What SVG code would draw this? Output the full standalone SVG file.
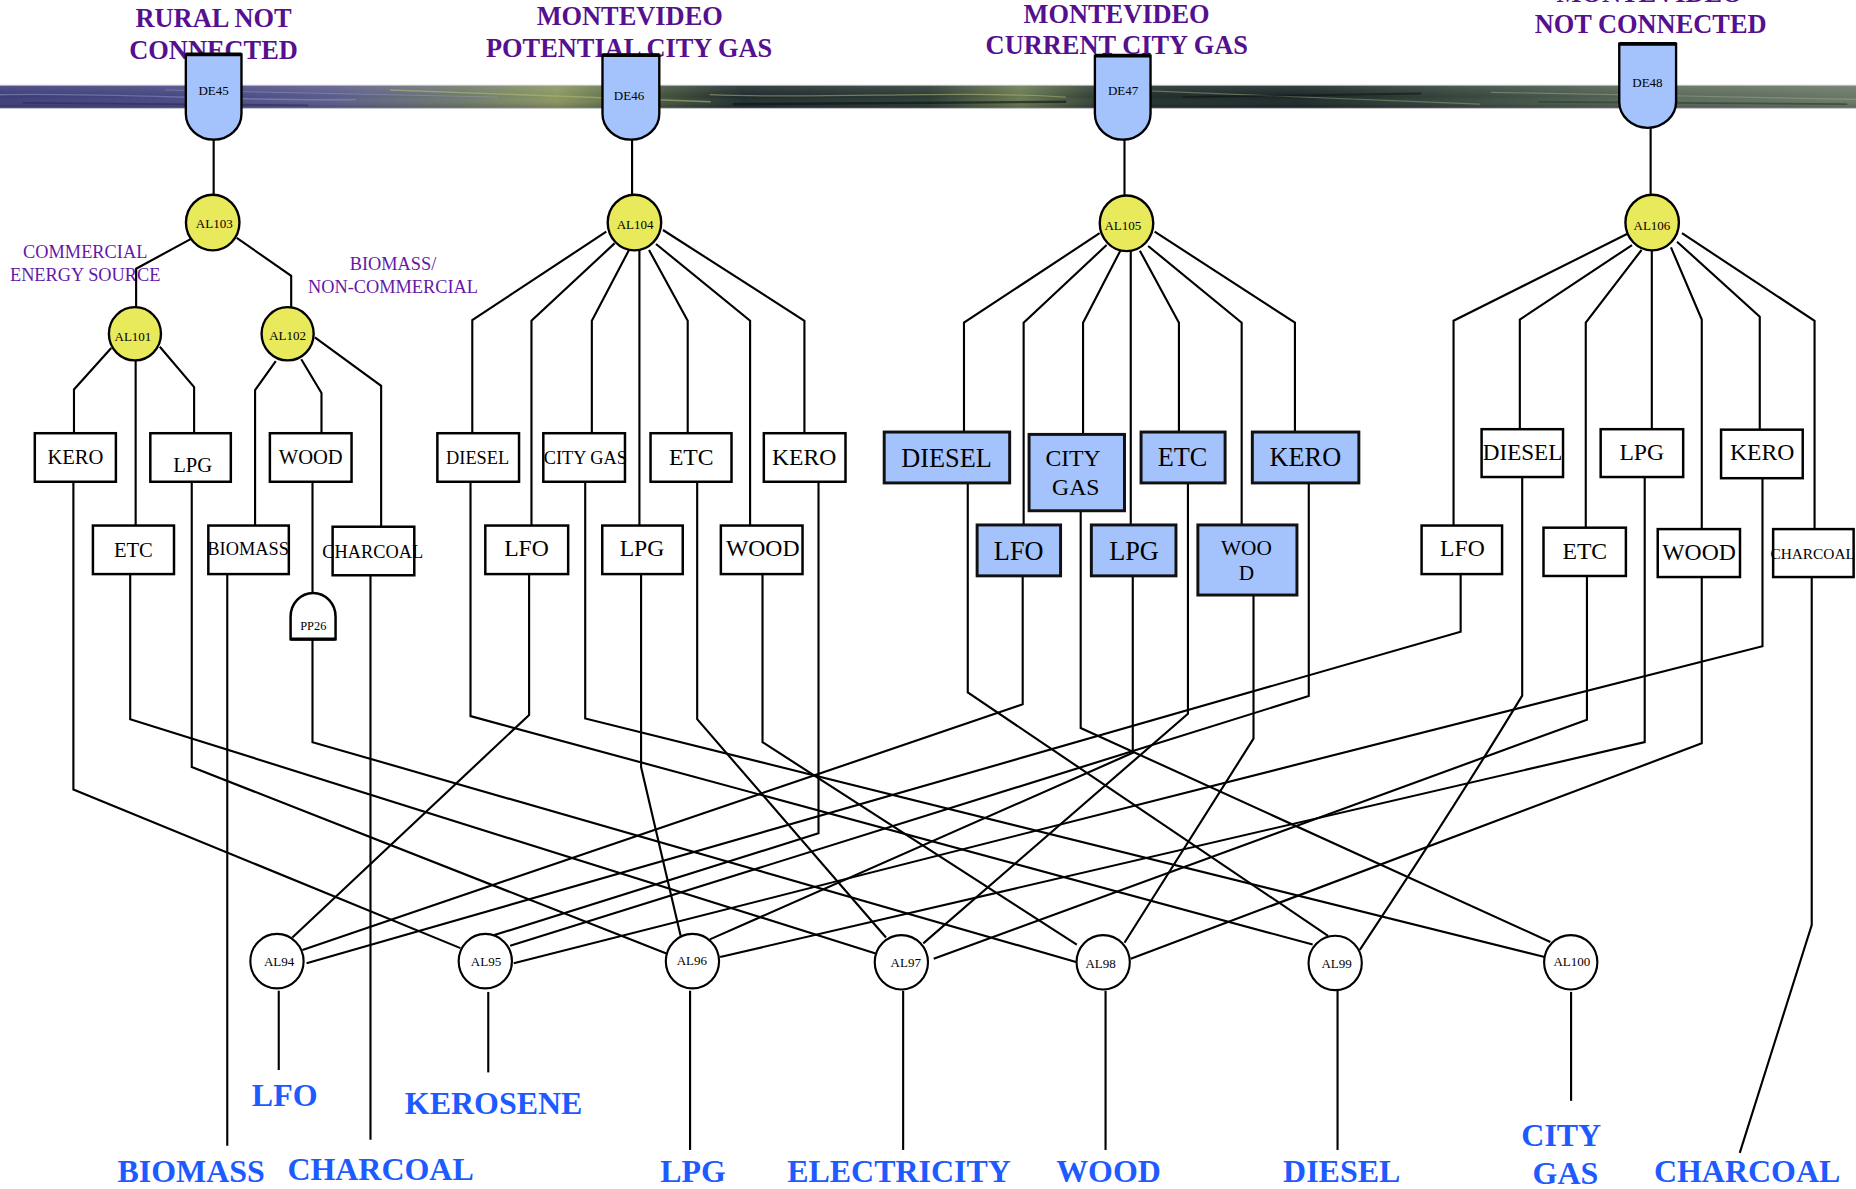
<svg xmlns="http://www.w3.org/2000/svg" width="1856" height="1189" viewBox="0 0 1856 1189">
<style>
.ln{fill:none;stroke:#000;stroke-width:1.8;stroke-linejoin:miter}
.bx{fill:#fff;stroke:#000;stroke-width:2.1}
.bb{fill:#a4c3fd;stroke:#111;stroke-width:2.5}
.ye{fill:#e9e95c;stroke:#000;stroke-width:2}
.wc{fill:#fff;stroke:#000;stroke-width:1.8}
.de{fill:#a4c3fd;stroke:#000;stroke-width:2}
.cap{fill:none;stroke:#000;stroke-width:3.2}
text{font-family:"Liberation Serif","Times New Roman",serif;text-anchor:middle;fill:#000}
.tt{font-size:22.3px;font-weight:bold;fill:#55108f}
.sl{font-size:15.5px;fill:#6418a8}
.bl{font-size:27px;font-weight:bold;fill:#1d5bff}
.id{font-size:11px}
.f13{font-size:13px}
.f15{font-size:15.5px}
.f17{font-size:17.4px}
.f18{font-size:18px}
.f20{font-size:20px}
.f22{font-size:22.2px}
</style>
<defs>
<linearGradient id="bandFill" x1="0" y1="0" x2="1" y2="0">
<stop offset="0" stop-color="#3c3c78"/>
<stop offset="0.12" stop-color="#4a4a86"/>
<stop offset="0.18" stop-color="#5a5c8a"/>
<stop offset="0.25" stop-color="#6e7a6a"/>
<stop offset="0.3" stop-color="#8a9660"/>
<stop offset="0.35" stop-color="#4a5a40"/>
<stop offset="0.4" stop-color="#1e2a2c"/>
<stop offset="0.5" stop-color="#2a3a34"/>
<stop offset="0.55" stop-color="#6a7a50"/>
<stop offset="0.6" stop-color="#22302e"/>
<stop offset="0.7" stop-color="#1a2626"/>
<stop offset="0.8" stop-color="#3a4a40"/>
<stop offset="0.9" stop-color="#5a6a58"/>
<stop offset="1" stop-color="#6a7866"/>
</linearGradient>
<linearGradient id="bandShade" x1="0" y1="0" x2="0" y2="1">
<stop offset="0" stop-color="#fff" stop-opacity="0.12"/>
<stop offset="0.5" stop-color="#fff" stop-opacity="0"/>
<stop offset="1" stop-color="#000" stop-opacity="0.2"/>
</linearGradient>
</defs>
<g transform="scale(1.18367)">

<!-- banner strip behind the top nodes -->
<g id="banner">
<rect x="0" y="72" width="1568" height="19.5" fill="url(#bandFill)"/>
<rect x="0" y="72" width="1568" height="19.5" fill="url(#bandShade)"/>
<g fill="none" stroke-linecap="round">
<path d="M0 80C100 78 200 86 300 84" stroke="#8a8ac0" stroke-width="1.2" opacity="0.6"/>
<path d="M20 87L260 89" stroke="#2a2a60" stroke-width="1.5" opacity="0.6"/>
<path d="M140 76L420 82" stroke="#9a9ac8" stroke-width="0.8" opacity="0.5"/>
<path d="M330 76L600 86" stroke="#b0b878" stroke-width="1.2" opacity="0.6"/>
<path d="M600 80C700 84 800 76 900 82" stroke="#c0c080" stroke-width="1" opacity="0.5"/>
<path d="M620 88L900 86" stroke="#0a1010" stroke-width="2" opacity="0.6"/>
<path d="M950 76L1250 88" stroke="#8a9a70" stroke-width="1" opacity="0.6"/>
<path d="M1000 82L1200 79" stroke="#0e1818" stroke-width="1.5" opacity="0.6"/>
<path d="M1260 78L1568 84" stroke="#9aa890" stroke-width="1" opacity="0.5"/>
<path d="M1300 86L1560 88" stroke="#2a3a30" stroke-width="1.5" opacity="0.6"/>
</g>
<path d="M0 72H1568M0 91.5H1568" stroke="#c8c8d0" stroke-width="0.8"/>
</g>

<!-- headings and group captions -->
<g id="titles">
<text class="tt" x="180.4" y="23">RURAL NOT</text>
<text class="tt" x="180.4" y="50">CONNECTED</text>
<text class="tt" x="532" y="21">MONTEVIDEO</text>
<text class="tt" x="531.5" y="48">POTENTIAL CITY GAS</text>
<text class="tt" x="943.3" y="19">MONTEVIDEO</text>
<text class="tt" x="943.5" y="46">CURRENT CITY GAS</text>
<text class="tt" x="1393.6" y="1.5">MONTEVIDEO</text>
<text class="tt" x="1394.5" y="28.2">NOT CONNECTED</text>
<text class="sl" x="72" y="218">COMMERCIAL</text>
<text class="sl" x="72" y="237">ENERGY SOURCE</text>
<text class="sl" x="332" y="228.5">BIOMASS/</text>
<text class="sl" x="332" y="247.5">NON-COMMERCIAL</text>
</g>

<!-- connectors -->
<g id="connectors">
<path class="ln" d="M180.5 118V166"/>
<path class="ln" d="M534 118V166"/>
<path class="ln" d="M950 118V167"/>
<path class="ln" d="M1394.5 108V166"/>
<path class="ln" d="M161 202L115 227V260"/>
<path class="ln" d="M200 201L246 233V260"/>
<path class="ln" d="M94 294L62.5 329V366"/>
<path class="ln" d="M114.6 304V444"/>
<path class="ln" d="M135 293L164 327V366"/>
<path class="ln" d="M233 305L215.5 329.5V444"/>
<path class="ln" d="M254.5 303.5L271.6 332V366"/>
<path class="ln" d="M266 285L322 326V445"/>
<!-- fan under AL104 -->
<path class="ln" d="M512.2 195.7L399 270.5V366"/>
<path class="ln" d="M519.2 205.6L449 271V444"/>
<path class="ln" d="M531.4 211.2L500 271V366"/>
<path class="ln" d="M540.2 211.8V444"/>
<path class="ln" d="M548.3 211.2L581 271V366"/>
<path class="ln" d="M554.2 206.1L633.7 271V444"/>
<path class="ln" d="M560.1 194.3L679.6 271V366"/>
<!-- fan under AL105 -->
<path class="ln" d="M929 197L814.4 272.6V365"/>
<path class="ln" d="M934.9 207L864.8 272.6V443.5"/>
<path class="ln" d="M946.5 211.8L915 272.6V367"/>
<path class="ln" d="M955.3 211.8V443.5"/>
<path class="ln" d="M963 211.8L996 272.6V365"/>
<path class="ln" d="M970 207.8L1049 272.6V443.5"/>
<path class="ln" d="M975.5 195.7L1094 272.6V365"/>
<!-- fan under AL106 -->
<path class="ln" d="M1374.5 197.7L1228 271V444"/>
<path class="ln" d="M1378.8 207L1284 270V362.6"/>
<path class="ln" d="M1386.8 211.2L1339.7 272.6V445.8"/>
<path class="ln" d="M1395.5 211.8V362.6"/>
<path class="ln" d="M1411.7 209L1437.7 270V447"/>
<path class="ln" d="M1416.8 204.2L1486.7 267.5V363"/>
<path class="ln" d="M1421 197L1533 271V447"/>
<!-- rural branch down to collectors -->
<path class="ln" d="M62 407V667L389 801"/>
<path class="ln" d="M110 485V607.6L739.8 805.5"/>
<path class="ln" d="M162 407V648L563 805.5"/>
<path class="ln" d="M192 485V968"/>
<path class="ln" d="M264 407V501"/>
<path class="ln" d="M264 540V627L909 812.7"/>
<path class="ln" d="M313 486V963"/>
<!-- potential city gas branch -->
<path class="ln" d="M397.5 407V605L1109 798"/>
<path class="ln" d="M447 485V604L247 792"/>
<path class="ln" d="M494.4 407V607L1305 808.5"/>
<path class="ln" d="M541.6 485V648L575 790.6"/>
<path class="ln" d="M589 407V607.6L748.5 792"/>
<path class="ln" d="M644.2 485V627L909.7 798"/>
<path class="ln" d="M691.5 407V704L417.6 790"/>
<!-- current city gas branch -->
<path class="ln" d="M817.6 408V585L1122 790.6"/>
<path class="ln" d="M864 486.6V595L255.5 802.6"/>
<path class="ln" d="M913 431.5V615L1309.8 795.8"/>
<path class="ln" d="M957 486.6V636L599.7 793.6"/>
<path class="ln" d="M1003.6 408V603L780 797"/>
<path class="ln" d="M1059 502.6V624L950 796.5"/>
<path class="ln" d="M1105.7 408V588L431 799"/>
<!-- not connected branch -->
<path class="ln" d="M1234 485V533.7L259 813.8"/>
<path class="ln" d="M1286 403V587.7Q1230 680 1148.8 802.5"/>
<path class="ln" d="M1340.7 486.6V608L788.8 810"/>
<path class="ln" d="M1389.5 403V627L608.4 808.5"/>
<path class="ln" d="M1437.7 487.5V628L955.3 810"/>
<path class="ln" d="M1489 404V546L434 813.8"/>
<path class="ln" d="M1530.6 487.5V781.5L1469.8 974"/>
<!-- collector outputs -->
<path class="ln" d="M235.5 837V904"/>
<path class="ln" d="M412.5 838V906"/>
<path class="ln" d="M583 837V971.5"/>
<path class="ln" d="M763 837V971.5"/>
<path class="ln" d="M934 837V971.5"/>
<path class="ln" d="M1130 837V971.5"/>
<path class="ln" d="M1327.3 838V930"/>
</g>

<!-- demand sectors -->
<g id="DE45"><path class="de" d="M157 46H204V96A23.5 22 0 0 1 157 96Z"/><path class="cap" d="M157 46H204"/><text class="id" x="180.5" y="80">DE45</text></g>
<g id="DE46"><path class="de" d="M509 46.5H557V96A24 22 0 0 1 509 96Z"/><path class="cap" d="M509 46.5H557"/><text class="id" x="531.4" y="84.5">DE46</text></g>
<g id="DE47"><path class="de" d="M925 47H972V96A23.5 22 0 0 1 925 96Z"/><path class="cap" d="M925 47H972"/><text class="id" x="948.8" y="80.3">DE47</text></g>
<g id="DE48"><path class="de" d="M1368 37H1416V86A24 22 0 0 1 1368 86Z"/><path class="cap" d="M1368 37H1416"/><text class="id" x="1391.8" y="73.8">DE48</text></g>

<!-- allocation nodes -->
<g id="AL103"><ellipse class="ye" cx="179.7" cy="188" rx="22.6" ry="23.5"/><text class="id" x="181" y="193">AL103</text></g>
<g id="AL104"><ellipse class="ye" cx="536" cy="188" rx="22.6" ry="23.5"/><text class="id" x="536.6" y="193.5">AL104</text></g>
<g id="AL105"><ellipse class="ye" cx="951.7" cy="188.7" rx="22.6" ry="23.5"/><text class="id" x="948.6" y="194">AL105</text></g>
<g id="AL106"><ellipse class="ye" cx="1395.8" cy="188" rx="22.6" ry="23.5"/><text class="id" x="1395.6" y="194.5">AL106</text></g>
<g id="AL101"><ellipse class="ye" cx="114" cy="282" rx="22" ry="22.5"/><text class="id" x="112.3" y="288">AL101</text></g>
<g id="AL102"><ellipse class="ye" cx="243" cy="282" rx="22" ry="22.5"/><text class="id" x="243" y="287.5">AL102</text></g>

<!-- rural not connected boxes -->
<g id="r_kero"><rect class="bx" x="29.4" y="366" width="68.5" height="41"/><text class="f17" x="63.7" y="392">KERO</text></g>
<g id="r_lpg"><rect class="bx" x="127" y="366" width="68" height="41"/><text class="f17" x="162.7" y="399">LPG</text></g>
<g id="r_wood"><rect class="bx" x="228" y="366" width="69" height="41"/><text class="f17" x="262.5" y="392">WOOD</text></g>
<g id="r_etc"><rect class="bx" x="78.5" y="444" width="68.5" height="41"/><text class="f17" x="112.7" y="470.7">ETC</text></g>
<g id="r_biomass"><rect class="bx" x="176" y="444" width="68" height="41"/><text class="f15" x="209.6" y="469">BIOMASS</text></g>
<g id="r_charcoal"><rect class="bx" x="281" y="445" width="69" height="41"/><text class="f15" x="314.9" y="471.5">CHARCOAL</text></g>
<g id="PP26"><path class="bx" d="M245.5 540V521A19 20 0 0 1 283.5 521V540Z"/><path d="M245.5 540H283.5" stroke="#000" stroke-width="2.8"/><text x="264.7" y="532.5" style="font-size:10.5px">PP26</text></g>

<!-- potential city gas boxes -->
<g id="p_diesel"><rect class="bx" x="369.5" y="366" width="69" height="41"/><text class="f15" x="403.5" y="392">DIESEL</text></g>
<g id="p_citygas"><rect class="bx" x="459" y="366" width="69" height="41"/><text class="f15" x="494.5" y="392">CITY GAS</text></g>
<g id="p_etc"><rect class="bx" x="549.6" y="366" width="68.4" height="41"/><text class="f20" x="584" y="393">ETC</text></g>
<g id="p_kero"><rect class="bx" x="645.3" y="366" width="69" height="41"/><text class="f20" x="679.4" y="393">KERO</text></g>
<g id="p_lfo"><rect class="bx" x="410" y="444" width="70" height="41"/><text class="f20" x="444.8" y="470">LFO</text></g>
<g id="p_lpg"><rect class="bx" x="508.8" y="444" width="68" height="41"/><text class="f20" x="542.4" y="470">LPG</text></g>
<g id="p_wood"><rect class="bx" x="609" y="444" width="69" height="41"/><text class="f20" x="644.4" y="470">WOOD</text></g>

<!-- current city gas boxes -->
<g id="c_diesel"><rect class="bb" x="747" y="365" width="106" height="43"/><text class="f22" x="799.7" y="394.8">DIESEL</text></g>
<g id="c_citygas"><rect class="bb" x="869.4" y="367" width="80.6" height="64.5"/><text class="f20" x="906.5" y="393.7">CITY</text><text class="f20" x="908.8" y="418">GAS</text></g>
<g id="c_etc"><rect class="bb" x="964" y="365" width="71" height="43"/><text class="f22" x="999" y="394">ETC</text></g>
<g id="c_kero"><rect class="bb" x="1058" y="365" width="90" height="43"/><text class="f22" x="1102.8" y="394">KERO</text></g>
<g id="c_lfo"><rect class="bb" x="825.5" y="443.5" width="70.5" height="43"/><text class="f22" x="860.6" y="473">LFO</text></g>
<g id="c_lpg"><rect class="bb" x="922" y="443.5" width="71.5" height="43"/><text class="f22" x="958" y="473">LPG</text></g>
<g id="c_wood"><rect class="bb" x="1012" y="443.5" width="83.7" height="59.2"/><text class="f18" x="1053" y="469">WOO</text><text class="f18" x="1053" y="490">D</text></g>

<!-- not connected boxes -->
<g id="n_diesel"><rect class="bx" x="1251.7" y="362.6" width="68.8" height="40.4"/><text style="font-size:19.5px" x="1286.3" y="388.6">DIESEL</text></g>
<g id="n_lpg"><rect class="bx" x="1352.3" y="362.6" width="69.7" height="40.4"/><text class="f20" x="1387" y="388.6">LPG</text></g>
<g id="n_kero"><rect class="bx" x="1454" y="363" width="69" height="41"/><text class="f20" x="1488.8" y="389">KERO</text></g>
<g id="n_lfo"><rect class="bx" x="1201" y="444" width="68" height="41"/><text class="f20" x="1235.5" y="470">LFO</text></g>
<g id="n_etc"><rect class="bx" x="1304" y="445.8" width="69.6" height="40.8"/><text class="f20" x="1338.9" y="472">ETC</text></g>
<g id="n_wood"><rect class="bx" x="1400.5" y="447" width="69.5" height="40.5"/><text class="f20" x="1435.4" y="473">WOOD</text></g>
<g id="n_charcoal"><rect class="bx" x="1498" y="447" width="68" height="40.5"/><text class="f13" x="1531.4" y="472">CHARCOAL</text></g>

<!-- fuel collectors -->
<g id="AL94"><ellipse class="wc" cx="234" cy="812" rx="22.5" ry="23"/><text class="id" x="235.8" y="816.5">AL94</text></g>
<g id="AL95"><ellipse class="wc" cx="410" cy="812" rx="22.5" ry="23"/><text class="id" x="410.6" y="816.5">AL95</text></g>
<g id="AL96"><ellipse class="wc" cx="585" cy="812" rx="22.5" ry="23"/><text class="id" x="584.5" y="815.5">AL96</text></g>
<g id="AL97"><ellipse class="wc" cx="761.5" cy="813" rx="22.5" ry="23"/><text class="id" x="765.2" y="817">AL97</text></g>
<g id="AL98"><ellipse class="wc" cx="932" cy="813" rx="22.5" ry="23"/><text class="id" x="929.8" y="817.5">AL98</text></g>
<g id="AL99"><ellipse class="wc" cx="1128" cy="813.5" rx="22.5" ry="23"/><text class="id" x="1129.2" y="818">AL99</text></g>
<g id="AL100"><ellipse class="wc" cx="1327" cy="813" rx="22.5" ry="23"/><text class="id" x="1328" y="816.5">AL100</text></g>

<!-- final energy labels -->
<g id="outputs">
<text class="bl" x="240.5" y="934">LFO</text>
<text class="bl" x="417" y="941">KEROSENE</text>
<text class="bl" x="161.5" y="998.5">BIOMASS</text>
<text class="bl" x="321.5" y="997">CHARCOAL</text>
<text class="bl" x="585.5" y="998.5">LPG</text>
<text class="bl" x="759.5" y="998.5">ELECTRICITY</text>
<text class="bl" x="936.5" y="998.5">WOOD</text>
<text class="bl" x="1133.5" y="998.5">DIESEL</text>
<text class="bl" x="1319" y="968.5">CITY</text>
<text class="bl" x="1322.5" y="1000">GAS</text>
<text class="bl" x="1476" y="998.5">CHARCOAL</text>
</g>
</g>
</svg>
